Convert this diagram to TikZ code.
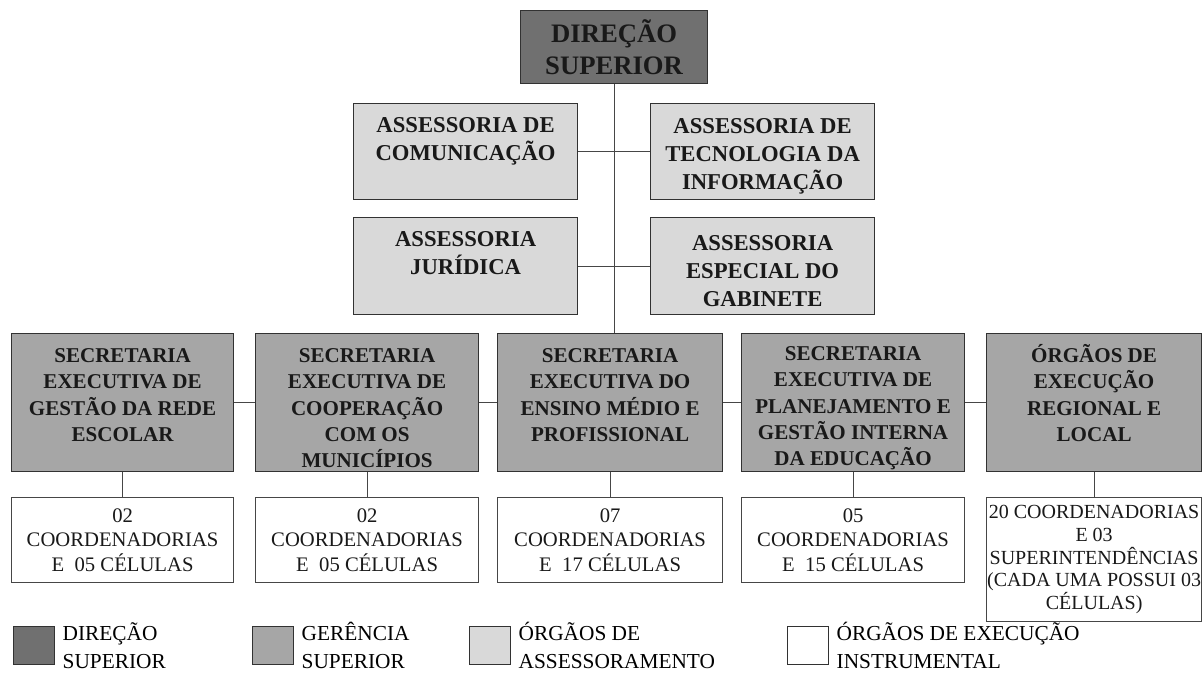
\documentclass[tikz,border=0pt]{standalone}
\usepackage{fontspec}
\setmainfont{Liberation Serif}
\usetikzlibrary{positioning}

\definecolor{dirgray}{RGB}{112,112,112}
\definecolor{gergray}{RGB}{166,166,166}
\definecolor{assgray}{RGB}{217,217,217}
\definecolor{edgegray}{RGB}{50,50,50}
\definecolor{linegray}{RGB}{70,70,70}
\newcommand{\topgap}{\rule{0pt}{19pt}}

\begin{document}
\begin{tikzpicture}[x=0.75pt,y=-0.75pt,
    box/.style={draw=edgegray, line width=0.9pt, anchor=north west,
        align=center, inner sep=1pt, text=black!90},
    dirbox/.style={box, fill=dirgray, minimum width=140.25pt, minimum height=54.75pt,
        font=\bfseries\fontsize{20}{24}\selectfont},
    assbox/.style={box, fill=assgray, minimum width=168pt, minimum height=72pt,
        font=\bfseries\fontsize{17}{21}\selectfont},
    secbox/.style={box, fill=gergray, minimum width=167.25pt, minimum height=103.5pt,
        inner ysep=0pt, font=\bfseries\fontsize{15.8}{19.8}\selectfont},
    instbox/.style={box, fill=white, draw=linegray, minimum width=167.25pt, minimum height=63.75pt,
        font=\fontsize{15.5}{18.2}\selectfont},
    link/.style={draw=linegray, line width=0.8pt},
    legsq/.style={draw=edgegray, line width=0.8pt, anchor=north west,
        minimum width=30.75pt, minimum height=28.5pt, inner sep=0pt},
    legtxt/.style={align=left, inner sep=0pt, font=\fontsize{16}{21}\selectfont}
]
\useasboundingbox (0,0) rectangle (1203,680);

% direcao e assessorias
\node[dirbox] (dir) at (520,10) {DIREÇÃO\\SUPERIOR};
\node[assbox] (com) at (353,103) {\topgap ASSESSORIA DE\\COMUNICAÇÃO\\\strut};
\node[assbox] (ti) at (650,103) {\topgap ASSESSORIA DE\\TECNOLOGIA DA\\INFORMAÇÃO};
\node[assbox, minimum height=72.75pt] (jur) at (353,217) {\topgap ASSESSORIA\\JURÍDICA\\\strut};
\node[assbox, minimum height=72.75pt] (esp) at (650,217) {\topgap ASSESSORIA\\ESPECIAL DO\\GABINETE};

% secretarias
\node[secbox, minimum width=166.5pt] (s1) at (11,333) {\topgap SECRETARIA\\EXECUTIVA DE\\GESTÃO DA REDE\\ESCOLAR\\\mbox{}};
\node[secbox] (s2) at (255,333) {\topgap SECRETARIA\\EXECUTIVA DE\\COOPERAÇÃO\\COM OS\\MUNICÍPIOS};
\node[secbox, minimum width=168.75pt] (s3) at (497,333) {\topgap SECRETARIA\\EXECUTIVA DO\\ENSINO MÉDIO E\\PROFISSIONAL\\\mbox{}};
\node[secbox] (s4) at (741,333) {\topgap SECRETARIA\\EXECUTIVA DE\\PLANEJAMENTO E\\GESTÃO INTERNA\\DA EDUCAÇÃO};
\node[secbox, minimum width=161.25pt] (s5) at (986,333) {\topgap ÓRGÃOS DE\\EXECUÇÃO\\REGIONAL E\\LOCAL\\\mbox{}};

% orgaos instrumentais
\node[instbox, minimum width=166.5pt] (w1) at (11,497) {02\\COORDENADORIAS\\E~~05 CÉLULAS};
\node[instbox] (w2) at (255,497) {02\\COORDENADORIAS\\E~~05 CÉLULAS};
\node[instbox, minimum width=168.75pt] (w3) at (497,497) {07\\COORDENADORIAS\\E~~17 CÉLULAS};
\node[instbox] (w4) at (741,497) {05\\COORDENADORIAS\\E~~15 CÉLULAS};
\node[instbox, minimum width=161.25pt, minimum height=93pt, inner sep=0pt,
    font=\fontsize{15}{17}\selectfont] (w5) at (986,497)
    {20 COORDENADORIAS\\E 03\\SUPERINTENDÊNCIAS\\(CADA UMA POSSUI 03\\CÉLULAS)};

% ligacoes
\draw[link] (dir.south) -- (dir.south |- s3.north);
\draw[link] (com.east) -- (ti.west);
\draw[link] (jur.east) -- (esp.west);
\foreach \a/\b in {s1/s2, s2/s3, s3/s4, s4/s5}
    \draw[link] (\a.east) -- (\b.west);
\foreach \i in {1,...,5}
    \draw[link] (s\i.south) -- (w\i.north);

% legenda
\node[legsq, fill=dirgray] (lg1) at (13,626) {};
\node[legtxt, right=5.5pt of lg1] {DIREÇÃO\\SUPERIOR};
\node[legsq, fill=gergray] (lg2) at (252,626) {};
\node[legtxt, right=5.5pt of lg2] {GERÊNCIA\\SUPERIOR};
\node[legsq, fill=assgray] (lg3) at (469,626) {};
\node[legtxt, right=5.5pt of lg3] {ÓRGÃOS DE\\ASSESSORAMENTO};
\node[legsq, fill=white] (lg4) at (787,626) {};
\node[legtxt, right=5.5pt of lg4] {ÓRGÃOS DE EXECUÇÃO\\INSTRUMENTAL};
\end{tikzpicture}
\end{document}
